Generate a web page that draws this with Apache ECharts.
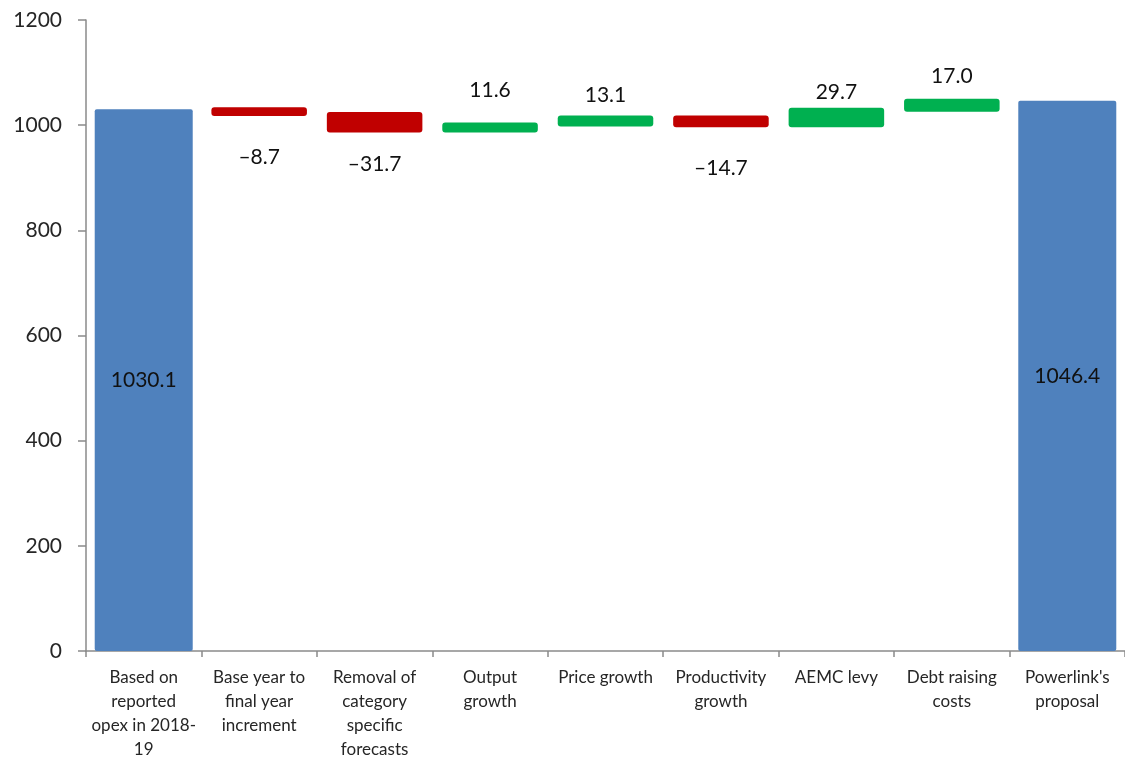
<!DOCTYPE html>
<html><head><meta charset="utf-8">
<script src="https://cdn.jsdelivr.net/npm/echarts@6/dist/echarts.min.js"></script>
<style>html,body{margin:0;background:#fff;overflow:hidden}#c{width:1125px;height:762px}</style></head>
<body><div id="c"></div>
<script>
const categories = ['Based on\nreported\nopex in 2018-\n19', 'Base year to\nfinal year\nincrement', 'Removal of\ncategory\nspecific\nforecasts', 'Output\ngrowth', 'Price growth', 'Productivity\ngrowth', 'AEMC levy', 'Debt raising\ncosts', "Powerlink's\nproposal"];
const startValue = 1030.1;
const changes = [-8.7, -31.7, 11.6, 13.1, -14.7, 29.7, 17.0];
const endValue = 1046.4;
const yTickMin = 0, yTickMax = 1200, yTickStep = 200;

// label gaps (px) for the change labels, style only
const labelGaps = [33, 23, 24, 12, 32, 7, 14];

const totals = [startValue];
const floats = [];
let run = startValue;
changes.forEach((c, i) => {
  const next = run + c;
  floats.push([i + 1, Math.min(run, next), Math.max(run, next), c]);
  totals.push('-');
  run = next;
});
totals.push(endValue);

const fmt = v => v.toFixed(1);
const textColor = '#262626';
const font = 'Lato, "Open Sans", sans-serif';

function renderFloat(params, api) {
  const idx = api.value(0), low = api.value(1), high = api.value(2), ch = api.value(3);
  const top = api.coord([idx, high]), bot = api.coord([idx, low]);
  const band = api.size([1, 0])[0];
  const w = band * 96 / 116;
  const color = ch < 0 ? '#C00000' : '#00B050';
  const gap = labelGaps[params.dataIndex];
  const neg = ch < 0;
  const labelY = neg ? bot[1] + gap : top[1] - gap;
  return {
    type: 'group',
    children: [
      { type: 'rect', shape: { x: top[0] - w / 2, y: top[1] - 2, width: w, height: bot[1] - top[1] + 4, r: 3 },
        style: { fill: color } },
      { type: 'text', x: top[0], y: labelY,
        style: { text: (neg ? '\u2013' + fmt(-ch) : fmt(ch)), font: '21px ' + font, fill: '#111',
                 align: 'center', verticalAlign: neg ? 'top' : 'bottom' } }
    ]
  };
}

const chart = echarts.init(document.getElementById('c'), null, { renderer: 'canvas', width: 1125, height: 762 });
chart.setOption({
  animation: false,
  textStyle: { fontFamily: font },
  grid: { left: 86, top: 20, width: 1045, height: 634 },
  xAxis: {
    type: 'category', data: categories,
    axisLine: { lineStyle: { color: '#8a8a8a', width: 1.5 } },
    axisTick: { show: true, length: 6, lineStyle: { color: '#8a8a8a', width: 1.5 } },
    axisLabel: { interval: 0, fontSize: 17, lineHeight: 24, margin: 15, color: textColor, fontFamily: font }
  },
  yAxis: {
    type: 'value', min: yTickMin, max: yTickMax, interval: yTickStep,
    axisLine: { show: true, lineStyle: { color: '#8a8a8a', width: 1.5 } },
    axisTick: { show: true, length: 8, lineStyle: { color: '#8a8a8a', width: 1.5 } },
    splitLine: { show: false },
    axisLabel: { fontSize: 21, margin: 24, color: textColor, fontFamily: font, formatter: v => String(v) }
  },
  series: [
    { type: 'bar', data: totals, barWidth: 98,
      itemStyle: { color: '#4F81BD', borderRadius: 2 },
      label: { show: true, position: 'inside', fontSize: 21, color: '#111', formatter: p => fmt(p.value), fontFamily: font } },
    { type: 'custom', data: floats, renderItem: renderFloat, encode: { x: 0, y: [1, 2] }, z: 3 }
  ]
});
</script>
</body></html>
